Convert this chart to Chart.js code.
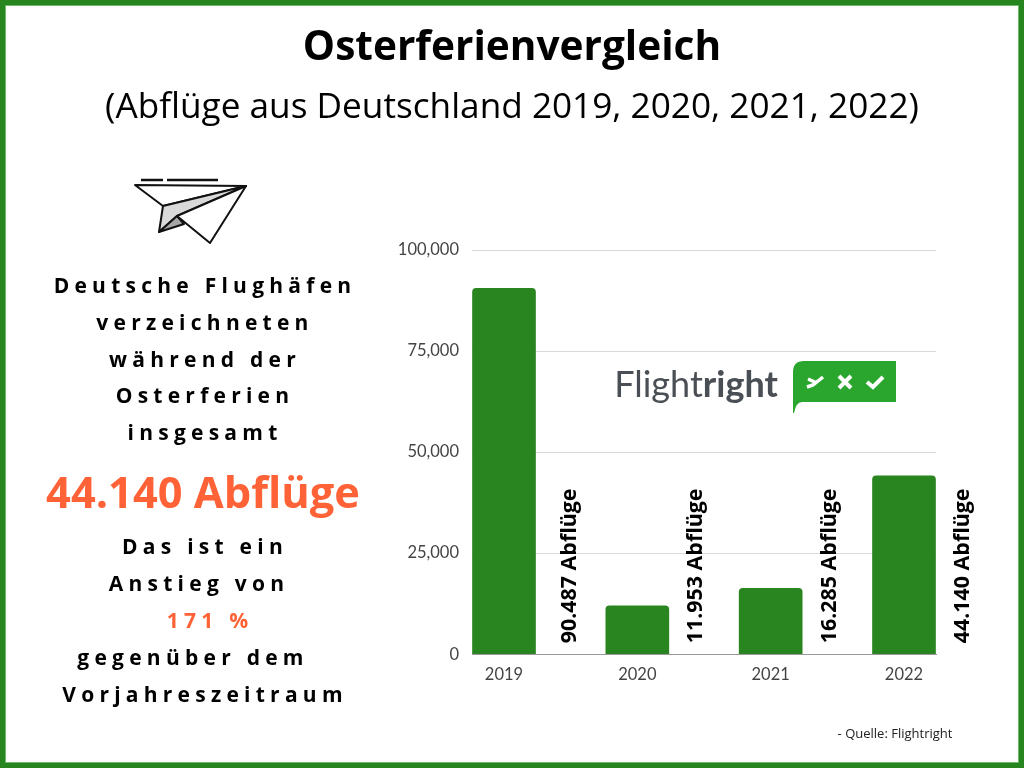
<!DOCTYPE html>
<html>
<head>
<meta charset="utf-8">
<script src="https://cdn.jsdelivr.net/npm/chart.js@4"></script>
<style>
  html, body { margin: 0; padding: 0; background: #fff; }
  #page { position: relative; width: 1024px; height: 768px; overflow: hidden; font-family: "Open Sans", sans-serif; color: #000; }
  #frame { position: absolute; inset: 0; border: 5px solid #26851f; box-shadow: inset 0 0 0 1px #6fb86a; box-sizing: border-box; z-index: 5; pointer-events: none; }
  #chart { position: absolute; left: 0; top: 0; }
  .t { position: absolute; white-space: nowrap; transform: translate(-50%, -50%); }
  .s { font-weight: 700; font-size: 21px; letter-spacing: 5.25px; }
  .o { color: #ff6236; }
</style>
</head>
<body>
<div id="page">
  <canvas id="chart" width="1024" height="768"></canvas>
  <div id="frame"></div>

  <div class="t" style="left:512px;top:44px;font-size:40.6px;font-weight:700">Osterferienvergleich</div>
  <div class="t" style="left:512px;top:104px;font-size:35.2px">(Abflüge aus Deutschland 2019, 2020, 2021, 2022)</div>

  <svg style="position:absolute;left:120px;top:170px" width="140" height="80" viewBox="0 0 140 80" fill="none" stroke="#111" stroke-width="2" stroke-linejoin="round">
    <path d="M21 10H43M47 10H98" stroke-width="2.5"/>
    <path d="M15 15L126 16L43 36Z" fill="#fff"/>
    <path d="M126 16L43 36L39 62L57 46Z" fill="#d9d9d9"/>
    <path d="M39 62L57 46L64 54Z" fill="#a6a6a6"/>
    <path d="M126 16L90 73L57 46Z" fill="#fff"/>
  </svg>

  <div class="t s" style="left:205px;top:285px">Deutsche Flughäfen</div>
  <div class="t s" style="left:205px;top:322px">verzeichneten</div>
  <div class="t s" style="left:205px;top:359px">während der</div>
  <div class="t s" style="left:205px;top:395px">Osterferien</div>
  <div class="t s" style="left:205px;top:432px">insgesamt</div>
  <div class="t o" style="left:203px;top:491px;font-size:43.4px;font-weight:700">44.140 Abflüge</div>
  <div class="t s" style="left:205px;top:546px">Das ist ein</div>
  <div class="t s" style="left:199px;top:583px">Anstieg von</div>
  <div class="t s o" style="left:210px;top:620px">171 %</div>
  <div class="t s" style="left:193px;top:657px">gegenüber dem</div>
  <div class="t s" style="left:205px;top:694px">Vorjahreszeitraum</div>

  <div class="t" style="left:696px;top:383px;font-family:Lato,sans-serif;font-size:36px;color:#4a4f55;font-weight:400">Flight<b style="font-weight:700">right</b></div>
  <svg style="position:absolute;left:790px;top:358px" width="110" height="58" viewBox="0 0 110 58">
    <path d="M14 3H106V44H12Q6 44 4 55H3V14Q3 3 14 3Z" fill="#2aa52e"/>
    <path d="M18 21L27 25M17 29L23 27L33 19" stroke="#fff" stroke-width="3.5" fill="none"/>
    <path d="M49 18L61 30M61 18L49 30" stroke="#fff" stroke-width="4" fill="none"/>
    <path d="M77 24L83 29L93 19" stroke="#fff" stroke-width="4" fill="none"/>
  </svg>

  <div class="t" style="left:895px;top:733px;font-size:13px;color:#222">- Quelle: Flightright</div>
</div>

<script>
  const years = [2019, 2020, 2021, 2022];
  const departures = [90487, 11953, 16285, 44140];
  const barLabels = ['90.487 Abflüge', '11.953 Abflüge', '16.285 Abflüge', '44.140 Abflüge'];
  const yTicks = [0, 25000, 50000, 75000, 100000];

  // writes the rotated text to the right of each bar
  const sideLabels = {
    id: 'sideLabels',
    afterDatasetsDraw(chart) {
      const ctx = chart.ctx;
      const x = chart.scales.x;
      const y = chart.scales.y;
      ctx.save();
      ctx.font = '700 21.4px "Open Sans"';
      ctx.fillStyle = '#000';
      ctx.textAlign = 'left';
      ctx.textBaseline = 'middle';
      years.forEach((year, i) => {
        ctx.save();
        // first label sits further from its bar than the others
        ctx.translate(x.getPixelForValue(year) + (i === 0 ? 66 : 59), y.getPixelForValue(0) - 11);
        ctx.rotate(-Math.PI / 2);
        ctx.fillText(barLabels[i], 0, 0);
        ctx.restore();
      });
      ctx.restore();
    }
  };

  new Chart(document.getElementById('chart'), {
    type: 'bar',
    data: {
      datasets: [{
        data: years.map((year, i) => ({ x: year, y: departures[i] })),
        backgroundColor: '#29851f',
        barThickness: 63,
        borderRadius: { topLeft: 4, topRight: 4 },
        borderSkipped: 'bottom'
      }]
    },
    options: {
      responsive: false,
      animation: false,
      layout: { padding: { left: 0, top: 250, right: 88, bottom: 72 } },
      plugins: { legend: { display: false }, tooltip: { enabled: false } },
      scales: {
        x: {
          type: 'linear',
          offset: false,
          min: 2018.76,
          max: 2022.24,
          afterBuildTicks: axis => { axis.ticks = years.map(v => ({ value: v })); },
          grid: { display: false, drawTicks: false, offset: false },
          border: { color: '#999' },
          ticks: {
            callback: v => String(v),
            color: '#444',
            font: { family: 'Lato', size: 16.5 },
            padding: 11,
            maxRotation: 0
          }
        },
        y: {
          min: 0,
          max: 100000,
          afterBuildTicks: axis => { axis.ticks = yTicks.map(v => ({ value: v })); },
          afterFit: axis => { axis.width = 472; },
          grid: { color: '#d9d9d9', drawTicks: false },
          border: { display: false },
          ticks: {
            callback: v => v.toLocaleString('en-US'),
            color: '#444',
            font: { family: 'Lato', size: 16.5 },
            padding: 13
          }
        }
      }
    },
    plugins: [sideLabels]
  });
</script>
</body>
</html>
